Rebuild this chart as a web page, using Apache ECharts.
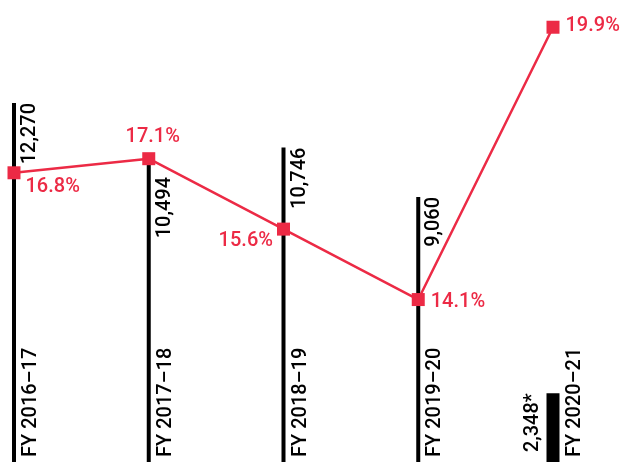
<!DOCTYPE html>
<html><head><meta charset="utf-8">
<script src="https://cdn.jsdelivr.net/npm/echarts@6/dist/echarts.min.js"></script>
<style>html,body{margin:0;padding:0;background:#fff}#c{width:622px;height:462px}</style>
</head><body><div id="c"></div>
<script>
// ---- data ----
const categories = ['FY 2016–17', 'FY 2017–18', 'FY 2018–19', 'FY 2019–20', 'FY 2020–21'];
const revenue = [12270, 10494, 10746, 9060, 2348];
const revenueNotes = ['', '', '', '', '*'];
const margin = [16.8, 17.1, 15.6, 14.1, 19.9];

// ---- style ----
const RED = '#ec2a45';
const FONT = 'Roboto';
const FS = 20;
const FW = 500;
const last = revenue.length - 1;
const fmt = (v, i) => v.toLocaleString('en-US') + revenueNotes[i];

const lineLabelStyles = [
  { position: 'right', offset: [0, 14] },
  { position: 'top', offset: [4, 0] },
  { position: 'left', offset: [1, 12] },
  { position: 'right', offset: [1, 2] },
  { position: 'right', offset: [1, -1] }
];

const chart = echarts.init(document.getElementById('c'));
const textBase = { fontFamily: FONT, fontSize: FS, fontWeight: FW, color: '#000' };

chart.setOption({
  animation: false,
  grid: { left: 14, right: 69, top: 0, bottom: 0 },
  xAxis: [
    { type: 'category', data: categories, boundaryGap: false, show: false },
    { type: 'category', data: categories, boundaryGap: false, show: false }
  ],
  yAxis: [
    { type: 'value', min: 0, max: 15790, show: false },
    { type: 'value', min: 10.64, max: 20.48, show: false }
  ],
  series: [
    {
      type: 'bar', xAxisIndex: 0, yAxisIndex: 0, barWidth: 4, barGap: '-100%',
      itemStyle: { color: '#000' },
      label: Object.assign({ show: true, position: 'top', distance: 0, rotate: 90,
        align: 'right', verticalAlign: 'top', offset: [0, 6],
        formatter: p => fmt(p.value, p.dataIndex) }, textBase),
      data: revenue.map((v, i) => i === last ? '-' :
        (i === 1 ? { value: v, label: { offset: [-22, 6] } } : v))
    },
    {
      type: 'bar', xAxisIndex: 0, yAxisIndex: 0, barWidth: 4, barGap: '-100%',
      silent: true,
      itemStyle: { color: 'rgba(0,0,0,0)' },
      label: Object.assign({ show: true, position: 'insideBottom', distance: 5, rotate: 90,
        align: 'left', verticalAlign: 'top', offset: [0, 7], formatter: '{b}' }, textBase),
      data: revenue.map((v, i) => i === last ? { value: v, label: { offset: [0, 12] } } : v)
    },
    {
      type: 'bar', xAxisIndex: 1, yAxisIndex: 0, barWidth: 13,
      itemStyle: { color: '#000' },
      label: Object.assign({ show: true, position: 'top', distance: 0, rotate: 90,
        align: 'right', verticalAlign: 'bottom', offset: [0, -10],
        formatter: p => fmt(p.value, p.dataIndex) }, textBase),
      data: revenue.map((v, i) => i === last ? v : '-')
    },
    {
      type: 'line', xAxisIndex: 0, yAxisIndex: 1,
      symbol: 'rect', symbolSize: 13,
      lineStyle: { color: RED, width: 2.5 },
      itemStyle: { color: RED },
      label: { show: true, fontFamily: FONT, fontSize: FS, fontWeight: FW, color: RED, formatter: '{c}%' },
      data: margin.map((v, i) => ({ value: v, label: lineLabelStyles[i] })),
      z: 5
    }
  ]
});
</script></body></html>
